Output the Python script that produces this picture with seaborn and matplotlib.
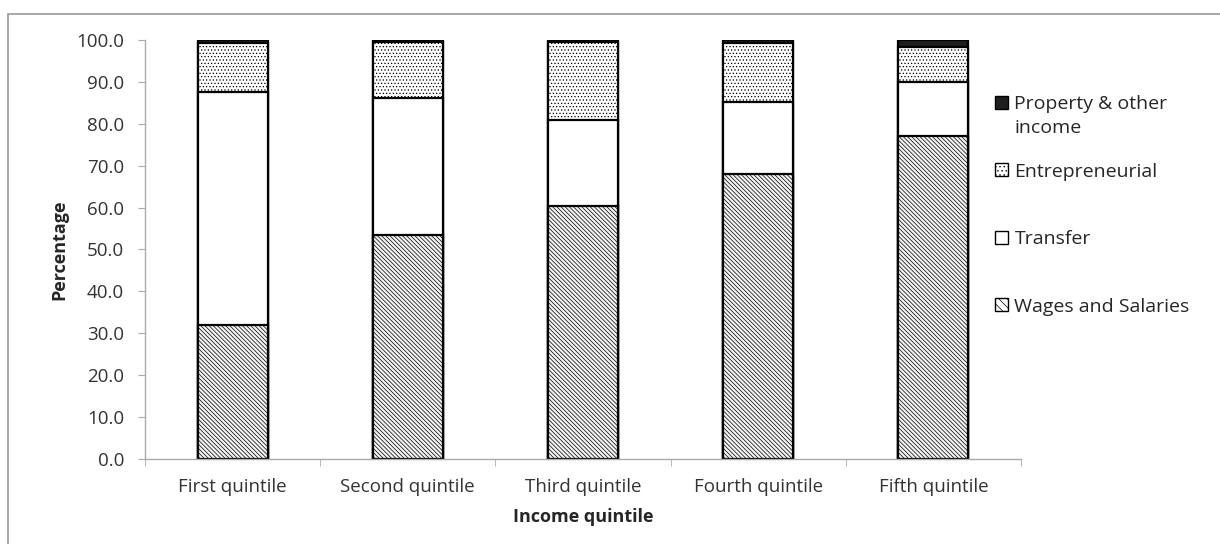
import pandas as pd
import matplotlib.pyplot as plt
import seaborn as sns
from matplotlib.patches import Patch, Rectangle

# данные
quintiles = ['First quintile', 'Second quintile', 'Third quintile', 'Fourth quintile', 'Fifth quintile']
wages = [32.0, 53.4, 60.4, 68.0, 77.0]
transfer = [55.6, 32.8, 20.6, 17.2, 13.0]
entrepreneurial = [11.7, 13.3, 18.5, 14.2, 8.4]
property_other = [0.7, 0.5, 0.5, 0.6, 1.6]

sns.set_style('white')
plt.rcParams['font.family'] = ['Open Sans', 'DejaVu Sans']
plt.rcParams['hatch.linewidth'] = 0.5

df = pd.DataFrame({'quintile': quintiles, 'wages': wages, 'transfer': transfer,
                   'entrepreneurial': entrepreneurial, 'property': property_other})
df['top_wages'] = df['wages']
df['top_transfer'] = df['top_wages'] + df['transfer']
df['top_entre'] = df['top_transfer'] + df['entrepreneurial']
df['top_property'] = df['top_entre'] + df['property']

fig = plt.figure(figsize=(12.2, 5.44), dpi=100)
ax = fig.add_axes([145 / 1220, 1 - 459 / 544, 876 / 1220, 419 / 544])

# слои рисуем сверху вниз, каждый следующий перекрывает предыдущий
layers = [
    ('top_property', '#1e1e1e', None),
    ('top_entre', 'white', '.....'),
    ('top_transfer', 'white', None),
    ('top_wages', '#f2f2f2', '\\\\\\\\\\\\\\\\'),
]
for col, fc, hatch in layers:
    sns.barplot(data=df, x='quintile', y=col, ax=ax, color=fc, saturation=1,
                width=0.4, edgecolor='black', linewidth=1.6, hatch=hatch,
                errorbar=None)

ax.set_ylim(0, 100)
ax.set_yticks(range(0, 101, 10))
ax.set_yticklabels([f'{v:.1f}' for v in range(0, 101, 10)])
ax.set_xticks(range(5))
ax.set_xticklabels(quintiles)
ax.set_xticks([i - 0.5 for i in range(6)], minor=True)
ax.tick_params(axis='x', which='major', length=0, pad=14, labelsize=13.5, colors='#333333')
ax.tick_params(axis='x', which='minor', length=5, color='#aaaaaa', direction='out', bottom=True)
ax.tick_params(axis='y', length=5, color='#aaaaaa', direction='out', left=True,
               pad=10, labelsize=13.5, labelcolor='#333333')

for s in ['top', 'right']:
    ax.spines[s].set_visible(False)
for s in ['left', 'bottom']:
    ax.spines[s].set_color('#aaaaaa')
    ax.spines[s].set_linewidth(1)

ax.set_xlabel('Income quintile', fontsize=13, fontweight='bold', labelpad=8)
ax.set_ylabel('Percentage', fontsize=13, fontweight='bold', labelpad=6)

handles = [
    Patch(facecolor='#1e1e1e', edgecolor='black'),
    Patch(facecolor='white', edgecolor='black', hatch='....'),
    Patch(facecolor='white', edgecolor='black'),
    Patch(facecolor='white', edgecolor='black', hatch='\\\\\\\\'),
]
labels = ['Property & other', 'Entrepreneurial', 'Transfer', 'Wages and Salaries']
leg = fig.legend(handles, labels, loc='upper left', bbox_to_anchor=(995 / 1220, 1 - 95 / 544),
                 frameon=False, fontsize=14, handlelength=0.65, handleheight=0.65,
                 handletextpad=0.35, labelspacing=2.55, borderpad=0, borderaxespad=0)

# вторая строка первой подписи — как в Excel, она не сдвигает остальные пункты
fig.canvas.draw()
bb = leg.get_texts()[0].get_window_extent()
fig.text(bb.x0 / 1220, (bb.y0 - 24) / 544, 'income', fontsize=14, color='#262626',
         ha='left', va='bottom')

# серая рамка вокруг области графика
fig.patches.append(Rectangle((8 / 1220, -0.1), 1.2, 1 - 14 / 544 + 0.1,
                             transform=fig.transFigure, fill=False,
                             edgecolor='#999999', linewidth=1.2))

fig.savefig('out.png', dpi=100)
